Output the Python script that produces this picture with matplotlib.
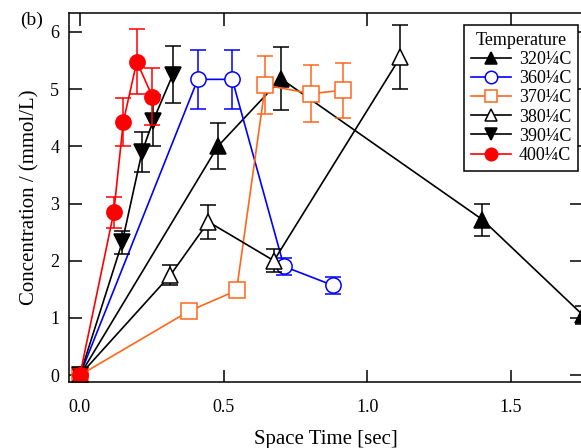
"""Concentration vs space time, panel (b)."""
import matplotlib

matplotlib.use("Agg")
from matplotlib import pyplot as plt

plt.rcParams["font.family"] = ["Liberation Serif", "DejaVu Serif"]

# data
labels = ["320¼C", "360¼C", "370¼C", "380¼C", "390¼C", "400¼C"]

t_320 = [0.0, 0.48, 0.70, 1.40, 1.75]
c_320 = [0.0, 4.0, 5.18, 2.72, 1.05]
e_320 = [0.1, 0.4, 0.55, 0.28, 0.15]

t_360 = [0.0, 0.41, 0.53, 0.71, 0.88]
c_360 = [0.0, 5.17, 5.17, 1.9, 1.57]
e_360 = [0.1, 0.52, 0.52, 0.15, 0.15]

t_370 = [0.0, 0.38, 0.545, 0.645, 0.805, 0.915]
c_370 = [0.0, 1.12, 1.48, 5.07, 4.92, 4.98]
e_370 = [0.1, 0.05, 0.08, 0.5, 0.5, 0.48]

t_380 = [0.0, 0.315, 0.447, 0.675, 1.115]
c_380 = [0.0, 1.75, 2.68, 2.0, 5.56]
e_380 = [0.1, 0.18, 0.3, 0.2, 0.56]

t_390 = [0.0, 0.147, 0.216, 0.255, 0.323]
c_390 = [0.0, 2.32, 3.9, 4.45, 5.25]
e_390 = [0.1, 0.2, 0.35, 0.45, 0.5]

t_400 = [0.0, 0.118, 0.151, 0.198, 0.252]
c_400 = [0.0, 2.85, 4.43, 5.48, 4.87]
e_400 = [0.1, 0.27, 0.42, 0.57, 0.5]

series = [
    (t_320, c_320, e_320, "black", "^", "black"),
    (t_360, c_360, e_360, "#0000ff", "o", "white"),
    (t_370, c_370, e_370, "#ff6619", "s", "white"),
    (t_380, c_380, e_380, "black", "^", "white"),
    (t_390, c_390, e_390, "black", "v", "black"),
    (t_400, c_400, e_400, "#ff0000", "o", "#ff0000"),
]

fig = plt.figure(figsize=(5.81, 4.48), dpi=100)
ax = fig.add_axes([69 / 581, 66 / 448, 513 / 581, 369 / 448])

handles = []
for (x, y, err, color, marker, face), label in zip(series, labels):
    ax.errorbar(x, y, yerr=err, fmt="none", ecolor=color, elinewidth=1.1,
                capsize=5.5, capthick=1.1)
    (line,) = ax.plot(x, y, color=color, lw=1.2, marker=marker, ms=11,
                      mfc=face, mec=color, mew=1.1, label=label)
    handles.append(line)

ax.set_xlim(-0.038, 1.747)
ax.set_ylim(-0.12, 6.33)
ax.set_xticks([0.0, 0.5, 1.0, 1.5])
ax.set_xticklabels(["0.0", "0.5", "1.0", "1.5"])
ax.set_yticks(range(7))
ax.tick_params(direction="in", length=9, width=1.1, top=True, right=True,
               labelsize=13)
ax.tick_params(axis="x", pad=12)
ax.tick_params(axis="y", pad=7)
for sp in ax.spines.values():
    sp.set_linewidth(1.1)

ax.set_xlabel("Space Time [sec]", fontsize=15, labelpad=10)
ax.set_ylabel("Concentration / (mmol/L)", fontsize=15, labelpad=8)

leg = ax.legend(handles=handles, title="Temperature", loc="upper right",
                bbox_to_anchor=(0.992, 0.9675), borderaxespad=0,
                fontsize=13, title_fontsize=13, numpoints=1, fancybox=False,
                edgecolor="black", framealpha=1, handlelength=2.2,
                handletextpad=0.45, labelspacing=0.12, borderpad=0.38)
leg.get_frame().set_linewidth(1.1)
for h in leg.legend_handles:
    h.set_markersize(9)

fig.text(20 / 581, 1 - 20 / 448, "(b)", fontsize=14, va="center")

fig.savefig("out.png", dpi=100)
